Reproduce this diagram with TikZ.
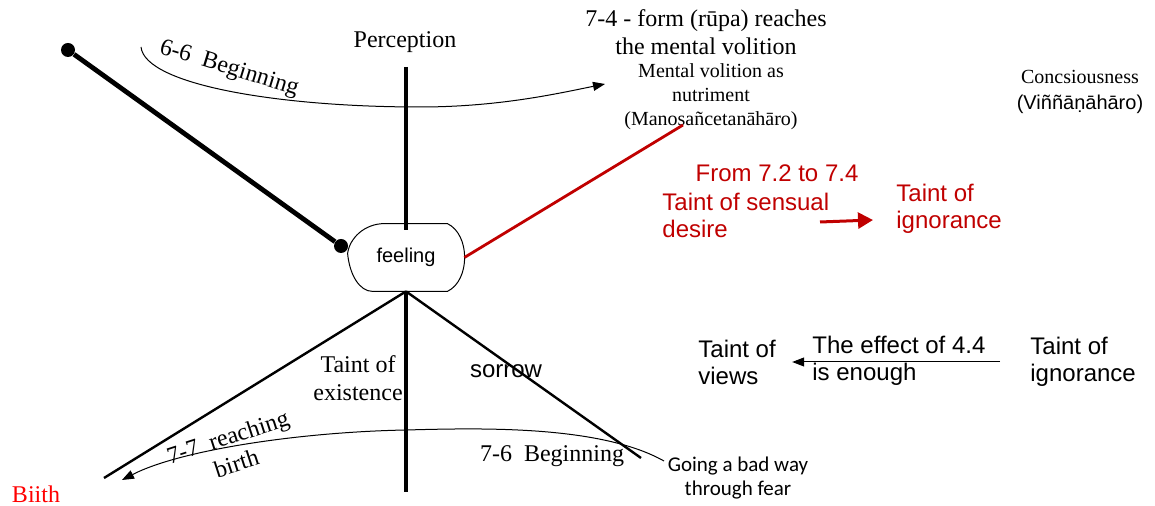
\documentclass[tikz,border=0pt]{standalone}
\usepackage{fontspec}
\setmainfont{Liberation Serif}
\setsansfont{Liberation Sans}
\newfontfamily\calfont{Carlito}
\usetikzlibrary{positioning,arrows.meta}
\definecolor{darkred}{RGB}{192,0,0}

\begin{document}
\begin{tikzpicture}[
    x=0.5pt, y=-0.5pt,
    lbl/.style={inner sep=0pt, align=center, font=\fontsize{12}{14}\selectfont},
    small/.style={inner sep=0pt, align=center, font=\fontsize{10}{12}\selectfont},
    slbl/.style={inner sep=0pt, align=left, font=\sffamily\fontsize{12}{13.5}\selectfont},
    redlbl/.style={slbl, text=darkred},
    thickline/.style={line width=2.4pt},
    thinline/.style={line width=0.5pt},
    arrow/.style={-{Triangle[length=6pt,width=4.5pt]}, line width=0.5pt},
    redarrow/.style={-{Triangle[length=7.5pt,width=8pt]}, line width=1.5pt, draw=darkred},
    dot/.style={circle, fill, inner sep=0pt, minimum size=7pt}
]
\useasboundingbox (0,0) rectangle (1155,506);

% centre of the figure
\node[inner sep=0pt, minimum width=58pt, minimum height=33.5pt,
      font=\sffamily\fontsize{10}{12}\selectfont] (feeling) at (406,257.5) {feeling};
\draw[thinline] ([xshift=18.5pt]feeling.north west) -- ([xshift=-8.5pt]feeling.north east)
    .. controls ([xshift=3pt,yshift=-5.5pt]feeling.north east) and ([xshift=3pt,yshift=5.5pt]feeling.south east) .. ([xshift=-8.5pt]feeling.south east)
    -- ([xshift=12.5pt]feeling.south west)
    .. controls ([xshift=6pt]feeling.south west) and ([xshift=1pt,yshift=-8.75pt]feeling.west) .. ([yshift=2pt]feeling.west)
    .. controls ([xshift=1pt,yshift=9.75pt]feeling.west) and ([xshift=8.5pt]feeling.north west) .. ([xshift=18.5pt]feeling.north west);

% top left
\node[dot] (dtop) at (68,50) {};
\node[dot] (dfeel) at (341,246) {};
\draw[thickline] (dtop) -- (dfeel);

\node[lbl] (percep) at (405,42) {Perception};
\coordinate (ptop) at (406,67);
\draw[thickline] (ptop) -- ([yshift=-3pt]feeling.north);

\node[lbl] (form) at (706,32) {7-4 - form (rūpa) reaches\\the mental volition};
\node[small] (mental) at (711,97) {Mental volition as\\nutriment\\(Manosañcetanāhāro)};
\coordinate (c66) at (141,47);
\coordinate (mvin) at (605,84);
\draw[arrow] (c66) .. controls (145,85) and (280,107) .. (420,107)
    .. controls (500,107) and (560,93) .. (mvin);
\node[lbl, rotate=-17] (beg66) at (229,69) {6-6\ \ Beginning};

\node[small] (consc) at (1080,77) {Concsiousness};
\node[inner sep=0pt, font=\sffamily\fontsize{10}{12}\selectfont, below=5pt of consc] (vinn) {(Viññāṇāhāro)};

% red part
\coordinate (mvpt) at (683,125);
\draw[darkred, line width=1.4pt] (feeling.east) -- (mvpt);
\node[redlbl] (from) at (777,173) {From 7.2 to 7.4};
\node[redlbl, anchor=west] (sensual) at (662,215) {Taint of sensual\\desire};
\node[redlbl, anchor=west] (ignor1) at (896,209) {Taint of\\ignorance};
\coordinate (rs) at (820,222);
\coordinate (re) at (873,220);
\draw[redarrow] (rs) -- (re);

% right
\node[slbl, anchor=west] (views) at (698,362) {Taint of\\views};
\node[slbl, anchor=west] (effect) at (812,361) {The effect of 4.4\\is enough};
\node[slbl, anchor=west] (ignor2) at (1030,362) {Taint of\\ignorance};
\draw[arrow, shorten <=15pt, shorten >=8pt] (ignor2.west) -- (views.east);

% bottom
\coordinate (lend) at (104,478);
\coordinate (rend) at (641,458);
\coordinate (bend) at (406,492);
\draw[line width=1.2pt] (feeling.south) -- (lend);
\draw[line width=1.2pt] (feeling.south) -- (rend);
\draw[thickline] (feeling.south) -- (bend);

\node[lbl] (exist) at (358,378) {Taint of\\existence};
\node[slbl] (sorrow) at (506,371) {sorrow};

\node[inner sep=0pt, align=center, font=\calfont\fontsize{10.5}{12}\selectfont] (going) at (738,478) {Going a bad way\\through fear};
\coordinate (c76) at (664,461);
\coordinate (birthpt) at (122,480);
\draw[arrow] (c76) .. controls (600,425) and (480,428) .. (406,430)
    .. controls (300,432) and (180,450) .. (birthpt);
\node[lbl] (beg76) at (552,456) {7-6\ \ Beginning};
\node[lbl, rotate=18] (reach) at (232,450) {7-7\ \ reaching\\birth};
\node[lbl, text=red] (biith) at (36,494) {Biith};

\end{tikzpicture}
\end{document}
